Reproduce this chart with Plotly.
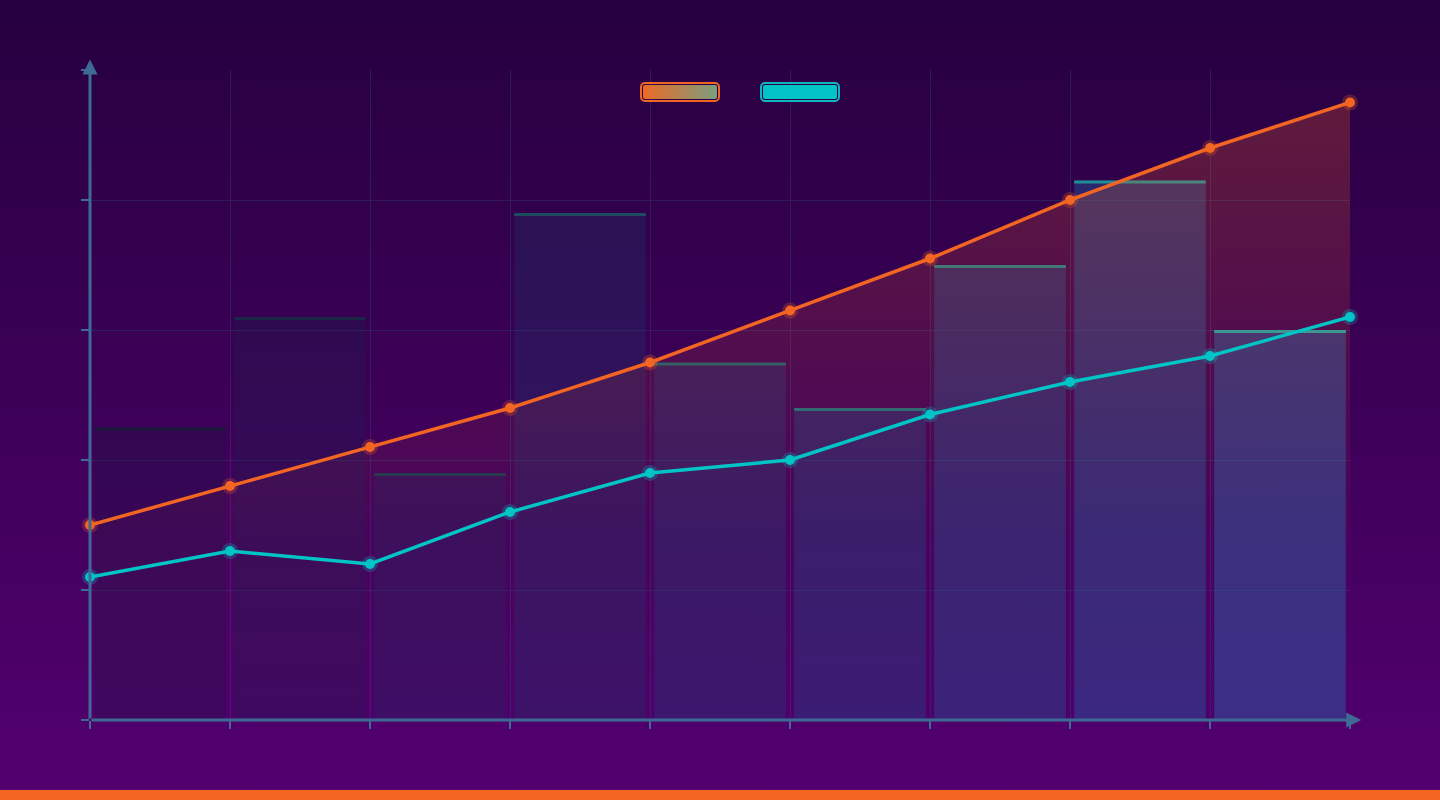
import base64

import numpy as np
import plotly.graph_objects as go

# data (y axis 0..100, no labels shown)
line_x = list(range(10))
orange_vals = [30, 36, 42, 48, 55, 63, 71, 80, 88, 95]
cyan_vals = [22, 26, 24, 32, 38, 40, 47, 52, 56, 62]
bar_vals = [45, 62, 38, 78, 55, 48, 70, 83, 60]

ORANGE = "#f26522"
CYAN = "#00c4c6"
AXIS = "#3e6a96"
GRID = "rgba(50,55,105,0.5)"

W, H = 1440, 800
L, R, T, B = 90, 90, 70, 80
PW, PH = W - L - R, H - T - B


def svg_uri(svg):
    return "data:image/svg+xml;base64," + base64.b64encode(svg.encode()).decode()


def lerp(c0, c1, t):
    return tuple(int(round(a + (b - a) * t)) for a, b in zip(c0, c1))


bar_x = np.arange(len(bar_vals)) + 0.5
n = len(bar_vals)
fill_cols, edge_cols = [], []
for i in range(n):
    t = i / (n - 1)
    r, g, b = lerp((20, 25, 60), (35, 110, 175), t)
    fill_cols.append(f"rgba({r},{g},{b},{0.25 + 0.17 * t:.2f})")
    r, g, b = lerp((25, 25, 55), (30, 165, 165), t)
    edge_cols.append(f"rgba({r},{g},{b},0.95)")

fig = go.Figure()

fig.add_trace(go.Bar(x=bar_x, y=bar_vals, width=0.94, marker=dict(color=fill_cols, line_width=0),
                     showlegend=False, hoverinfo="skip"))
edge_h = 0.45
fig.add_trace(go.Bar(x=bar_x, y=[edge_h] * n, base=[v - edge_h for v in bar_vals], width=0.94,
                     marker=dict(color=edge_cols, line_width=0), showlegend=False, hoverinfo="skip"))

# orange area with vertical fade
fig.add_trace(go.Scatter(
    x=line_x, y=orange_vals, mode="none", fill="tozeroy",
    fillgradient=dict(type="vertical", start=0, stop=max(orange_vals),
                      colorscale=[[0, "rgba(242,101,34,0)"], [0.3, "rgba(242,101,34,0.03)"],
                                  [1, "rgba(242,101,34,0.26)"]]),
    showlegend=False, hoverinfo="skip"))

for vals, col in [(orange_vals, ORANGE), (cyan_vals, CYAN)]:
    # soft glow round the points
    fig.add_trace(go.Scatter(x=line_x, y=vals, mode="markers", marker=dict(size=16, color=col),
                             opacity=0.25, cliponaxis=False, showlegend=False, hoverinfo="skip"))
    fig.add_trace(go.Scatter(x=line_x, y=vals, mode="lines+markers", cliponaxis=False,
                             line=dict(color=col, width=3.5), marker=dict(size=10, color=col),
                             showlegend=False))

# background gradient + legend boxes as images
bg_svg = (f'<svg xmlns="http://www.w3.org/2000/svg" width="{W}" height="{H}" viewBox="0 0 {W} {H}" preserveAspectRatio="none">'
          '<defs><linearGradient id="g" x1="0" y1="0" x2="0" y2="1">'
          '<stop offset="0" stop-color="#26003f"/><stop offset="1" stop-color="#530070"/>'
          f'</linearGradient></defs><rect width="{W}" height="{H}" fill="url(#g)"/>'
          f'<rect y="790" width="{W}" height="10" fill="{ORANGE}"/></svg>')


def legend_svg(fill, stroke, grad=None):
    defs = ""
    if grad:
        defs = ('<defs><linearGradient id="lg" x1="0" y1="0" x2="1" y2="0">'
                f'<stop offset="0" stop-color="{grad[0]}"/><stop offset="1" stop-color="{grad[1]}"/>'
                '</linearGradient></defs>')
        fill = "url(#lg)"
    return ('<svg xmlns="http://www.w3.org/2000/svg" width="80" height="20" viewBox="0 0 80 20">' + defs +
            f'<rect x="1" y="1" width="78" height="18" rx="4" fill="none" stroke="{stroke}" stroke-width="2"/>'
            f'<rect x="3" y="3" width="74" height="14" rx="2" fill="{fill}"/></svg>')


def px_x(px):
    return (px - L) / PW


def px_y(py):
    return (H - B - py) / PH


images = [dict(source=svg_uri(bg_svg), xref="paper", yref="paper", x=px_x(0), y=px_y(0),
               sizex=W / PW, sizey=H / PH, sizing="stretch", layer="below", xanchor="left", yanchor="top")]
for left, svg in [(640, legend_svg(None, ORANGE, ("#ec6a26", "#7c9e7e"))), (760, legend_svg(CYAN, "#12b4be"))]:
    images.append(dict(source=svg_uri(svg), xref="paper", yref="paper", x=px_x(left), y=px_y(82),
                       sizex=80 / PW, sizey=20 / PH, sizing="stretch", layer="above",
                       xanchor="left", yanchor="top"))

# axis lines with arrow heads, drawn from the origin
ann = [
    dict(x=0, y=101.6, ax=0, ay=0, xref="x", yref="y", axref="x", ayref="y", showarrow=True,
         arrowhead=2, arrowsize=1, arrowwidth=3, arrowcolor=AXIS, text=""),
    dict(x=9.08, y=0, ax=0, ay=0, xref="x", yref="y", axref="x", ayref="y", showarrow=True,
         arrowhead=2, arrowsize=1, arrowwidth=3, arrowcolor=AXIS, text=""),
]

axis_common = dict(showgrid=True, gridcolor=GRID, gridwidth=1, zeroline=False, showline=False,
                   ticks="outside", ticklen=8, tickwidth=2, tickcolor=AXIS, showticklabels=False)

fig.update_layout(
    width=W, height=H, margin=dict(l=L, r=R, t=T, b=B),
    paper_bgcolor="#3a0058", plot_bgcolor="rgba(0,0,0,0)",
    barmode="overlay", images=images, annotations=ann, showlegend=False,
    xaxis=dict(range=[0, 9], dtick=1, tick0=0, **axis_common),
    yaxis=dict(range=[0, 100], dtick=20, tick0=0, **axis_common),
)

fig.write_html("out.html", config={"displayModeBar": False},
               post_script="document.body.style.margin='0';")
